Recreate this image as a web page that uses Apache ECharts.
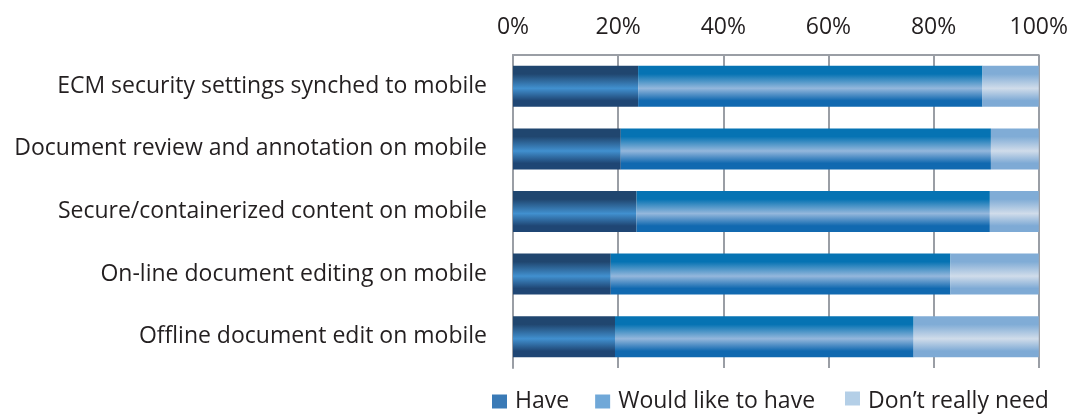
<!DOCTYPE html>
<html>
<head>
<meta charset="utf-8">
<script src="https://cdn.jsdelivr.net/npm/echarts@6/dist/echarts.min.js"></script>
<style>
  html, body { margin: 0; padding: 0; background: #fff; }
  #chart { width: 1071px; height: 416px; }
</style>
</head>
<body>
<div id="chart"></div>
<script>
// Mobile ECM capabilities, share of respondents (%)
const categories = [
  'ECM security settings synched to mobile',
  'Document review and annotation on mobile',
  'Secure/containerized content on mobile',
  'On-line document editing on mobile',
  'Offline document edit on mobile'
];
const seriesNames = ['Have', 'Would like to have', 'Don\u2019t really need'];
const haveValues = [23.8, 20.5, 23.5, 18.6, 19.4];
const wouldLikeValues = [65.5, 70.4, 67.2, 64.6, 56.8];
const dontNeedValues = [10.7, 9.1, 9.3, 16.8, 23.8];
const tickValues = [0, 20, 40, 60, 80, 100];

const FONT = 'Open Sans';
const FONT_SIZE = 23;
const TEXT = '#231f20';
const GRID_LINE = '#9a9ea5';

// Vertical shading gives each bar a rounded, tube-like look
function tube(edgeTop, mid, edgeBottom) {
  return new echarts.graphic.LinearGradient(0, 0, 0, 1, [
    { offset: 0, color: edgeTop },
    { offset: 0.2, color: edgeTop },
    { offset: 0.55, color: mid },
    { offset: 0.85, color: edgeBottom },
    { offset: 1, color: edgeBottom }
  ]);
}

const barFills = [
  tube('#20466f', '#4190cf', '#1f4674'),
  tube('#0673b3', '#94b7dc', '#1169b0'),
  tube('#80acd6', '#d0dcea', '#7eaad5')
];
const legendSwatches = ['#3a7ab6', '#70a8d8', '#b4cfe7'];
const valueLists = [haveValues, wouldLikeValues, dontNeedValues];

const legendText = { fontFamily: FONT, fontSize: FONT_SIZE, color: TEXT, padding: [0, 0, 0, 3] };
const legendBase = { icon: 'rect', itemWidth: 15, itemHeight: 14, itemGap: 26, padding: 0, selectedMode: false };

const chart = echarts.init(document.getElementById('chart'), null, { renderer: 'canvas' });

chart.setOption({
  animation: false,
  textStyle: { fontFamily: FONT },
  grid: { left: 513, right: 31, top: 55, bottom: 48, containLabel: false },
  legend: [
    Object.assign({}, legendBase, {
      left: 492,
      top: 390,
      textStyle: legendText,
      data: seriesNames.slice(0, 2).map((name, i) => ({ name, itemStyle: { color: legendSwatches[i] } }))
    }),
    // the last entry's text sits a little lower than its swatch
    Object.assign({}, legendBase, {
      left: 845,
      top: 390,
      formatter: name => '{low|' + name + '}',
      textStyle: Object.assign({}, legendText, {
        rich: { low: { fontFamily: FONT, fontSize: FONT_SIZE, color: TEXT, padding: [6, 0, 0, 0] } }
      }),
      data: [{ name: seriesNames[2], itemStyle: { color: legendSwatches[2] } }]
    })
  ],
  xAxis: {
    type: 'value',
    position: 'top',
    min: 0,
    max: 100,
    interval: 20,
    axisLine: { show: true, lineStyle: { color: GRID_LINE, width: 2 } },
    axisTick: { show: false },
    splitLine: { show: true, lineStyle: { color: GRID_LINE, width: 2 } },
    axisLabel: {
      margin: 16,
      fontFamily: FONT,
      fontSize: FONT_SIZE,
      color: TEXT,
      formatter: v => (tickValues.includes(v) ? v + '%' : '')
    }
  },
  yAxis: {
    type: 'category',
    inverse: true,
    data: categories,
    axisLine: { show: true, lineStyle: { color: GRID_LINE, width: 2 } },
    axisTick: { show: false },
    axisLabel: { margin: 26, fontFamily: FONT, fontSize: FONT_SIZE, color: TEXT }
  },
  series: seriesNames.map((name, i) => ({
    name,
    type: 'bar',
    stack: 'total',
    barCategoryGap: '34.5%',
    data: valueLists[i],
    itemStyle: { color: barFills[i] },
    emphasis: { disabled: true }
  }))
});
</script>
</body>
</html>
